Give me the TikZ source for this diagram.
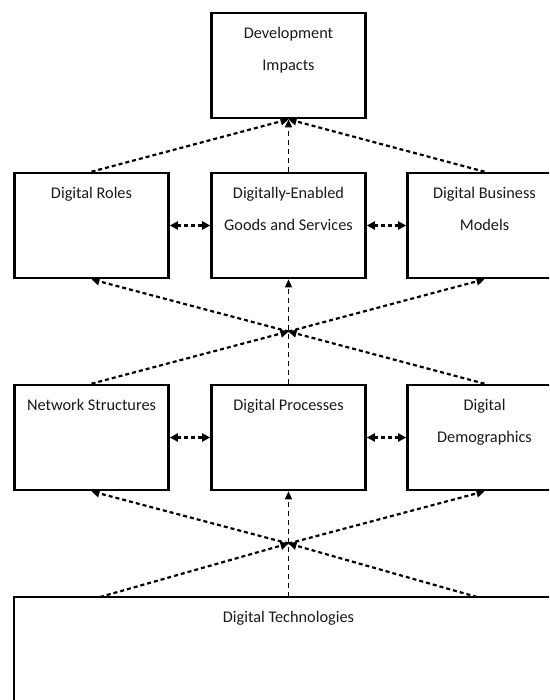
\documentclass[tikz,border=0pt]{standalone}
\usepackage{fontspec}
\setmainfont{Carlito}
\usetikzlibrary{arrows.meta,positioning}

\begin{document}
\begin{tikzpicture}
    [%%%%%%%%%%%%%%%%%%%%%%%%%%%%%%
        x=1pt, y=-1pt,
        box/.style={rectangle,draw=black,line width=2.6pt,minimum width=154pt,minimum height=105pt},
        txt/.style={font=\fontsize{16.3}{32}\selectfont,align=center,inner sep=0pt,text=black!90},
        link/.style={line width=2.2pt,dash pattern=on 4pt off 3pt,-{Triangle[length=8pt,width=8pt]}},
        both/.style={link,{Triangle[length=8pt,width=8pt]}-{Triangle[length=8pt,width=8pt]}},
        up/.style={line width=1.4pt,dash pattern=on 5pt off 4pt,-{Triangle[length=8pt,width=7pt]}},
    ]%%%%%%%%%%%%%%%%%%%%%%%%%%%%%%

\useasboundingbox (0,0) rectangle (549,700);
\clip (0,0) rectangle (549,700);

\node[box] (impacts) at (288.5,65.5){};
\foreach \x/\n in {91.5/roles,288.5/goods,484.5/models}
    \node[box] (\n) at (\x,225.5){};
\foreach \x/\n in {91.5/network,288.5/processes,484.5/demographics}
    \node[box] (\n) at (\x,437.5){};
\node[box,minimum width=586pt,minimum height=123pt] (tech) at (307,658.5){};

\node[txt,below=15pt of impacts.north]{Development\\Impacts};
\node[txt,below=15pt of roles.north]{Digital Roles};
\node[txt,below=15pt of goods.north]{Digitally-Enabled\\Goods and Services};
\node[txt,below=15pt of models.north]{Digital Business\\Models};
\node[txt,below=15pt of network.north]{Network Structures};
\node[txt,below=15pt of processes.north]{Digital Processes};
\node[txt,below=15pt of demographics.north]{Digital\\Demographics};
\node[txt,below=15pt of tech.north,xshift=-18.5pt]{Digital Technologies};

\coordinate (hubA) at (288.5,331.5);
\coordinate (hubB) at (288.5,543.5);
\coordinate (techL) at (100,597);
\coordinate (techC) at (288.5,597);
\coordinate (techR) at (477,597);

% top layer
\draw[link] (roles.north) -- (impacts.south);
\draw[link] (models.north) -- (impacts.south);
\draw[up] (goods.north) -- (impacts.south);
\draw[both] (roles.east) -- (goods.west);
\draw[both] (goods.east) -- (models.west);

% middle layer
\draw[link] (network.north) -- (hubA);
\draw[link] (demographics.north) -- (hubA);
\draw[link] (hubA) -- (roles.south);
\draw[link] (hubA) -- (models.south);
\draw[up] (processes.north) -- (goods.south);
\draw[both] (network.east) -- (processes.west);
\draw[both] (processes.east) -- (demographics.west);

% bottom layer
\draw[link] (techL) -- (hubB);
\draw[link] (techR) -- (hubB);
\draw[link] (hubB) -- (network.south);
\draw[link] (hubB) -- (demographics.south);
\draw[up] (techC) -- (processes.south);
\end{tikzpicture}
\end{document}
